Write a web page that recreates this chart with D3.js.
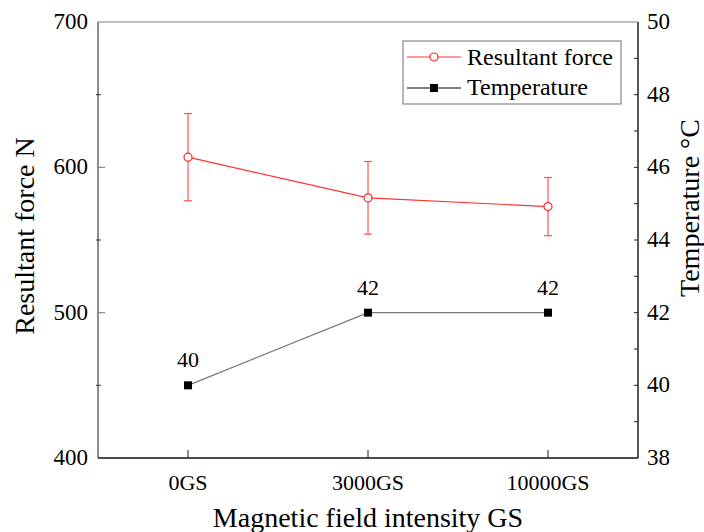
<!DOCTYPE html>
<html><head><meta charset="utf-8"><script src="https://cdn.jsdelivr.net/npm/d3@7"></script></head>
<body><svg id="s" width="704" height="532"></svg>
<script>
const categories = ["0GS", "3000GS", "10000GS"];
const forceValues = [607, 579, 573];
const forceErrors = [30, 25, 20];
const tempValues = [40, 42, 42];
const forceTicks = [400, 500, 600, 700];
const forceMinorTicks = [450, 550, 650];
const tempTicks = [38, 40, 42, 44, 46, 48, 50];
const tempMinorTicks = [39, 41, 43, 45, 47, 49];

d3.select("body").style("margin", "0px").style("background", "#fff");
const svg = d3.select("#s");
const FONT = "'Liberation Serif'";
const plotL = 98, plotR = 638, plotT = 22, plotB = 458;

const x = d3.scalePoint().domain(categories).range([plotL, plotR]).padding(0.5);
const yForce = d3.scaleLinear().domain([400, 700]).range([plotB, plotT]);
const yTemp = d3.scaleLinear().domain([38, 50]).range([plotB, plotT]);

// frame
svg.append("line").attr("x1", plotL).attr("x2", plotR).attr("y1", plotT).attr("y2", plotT)
  .attr("stroke", "#aaa").attr("stroke-width", 1.5);
svg.append("line").attr("x1", plotL).attr("x2", plotL).attr("y1", plotT).attr("y2", plotB)
  .attr("stroke", "#666").attr("stroke-width", 1.5);
svg.append("line").attr("x1", plotR).attr("x2", plotR).attr("y1", plotT).attr("y2", plotB)
  .attr("stroke", "#222").attr("stroke-width", 1.5);
svg.append("line").attr("x1", plotL).attr("x2", plotR).attr("y1", plotB).attr("y2", plotB)
  .attr("stroke", "#111").attr("stroke-width", 1.5);

// left axis ticks + labels
svg.append("g").selectAll("line").data(forceTicks.slice(1, -1)).join("line")
  .attr("x1", plotL).attr("x2", plotL + 7)
  .attr("y1", d => yForce(d)).attr("y2", d => yForce(d))
  .attr("stroke", "#888").attr("stroke-width", 1.2);
svg.append("g").selectAll("line").data(forceMinorTicks).join("line")
  .attr("x1", plotL - 2).attr("x2", plotL + 3)
  .attr("y1", d => yForce(d)).attr("y2", d => yForce(d))
  .attr("stroke", "#333").attr("stroke-width", 1);
svg.append("g").selectAll("text").data(forceTicks).join("text")
  .attr("font-family", FONT).attr("font-size", 23)
  .attr("x", plotL - 10).attr("y", d => yForce(d) + 7)
  .attr("text-anchor", "end")
  .text(d => d);

// right axis ticks + labels
svg.append("g").selectAll("line").data(tempTicks.slice(1, -1).concat(tempMinorTicks)).join("line")
  .attr("x1", plotR - 4).attr("x2", plotR)
  .attr("y1", d => yTemp(d)).attr("y2", d => yTemp(d))
  .attr("stroke", "#222").attr("stroke-width", 1);
svg.append("g").selectAll("text").data(tempTicks).join("text")
  .attr("font-family", FONT).attr("font-size", 23)
  .attr("x", plotR + 9).attr("y", d => yTemp(d) + 7)
  .text(d => d);

// bottom ticks + labels
svg.append("g").selectAll("line").data(categories).join("line")
  .attr("x1", d => x(d)).attr("x2", d => x(d))
  .attr("y1", plotB).attr("y2", plotB - 8)
  .attr("stroke", "#222").attr("stroke-width", 1);
svg.append("g").selectAll("text").data(categories).join("text")
  .attr("font-family", FONT).attr("font-size", 22)
  .attr("x", d => x(d)).attr("y", 490)
  .attr("text-anchor", "middle")
  .text(d => d);

// axis titles
const titles = [
  { t: "Magnetic field intensity GS", tr: "translate(368,527)" },
  { t: "Resultant force N", tr: "translate(34,236) rotate(-90)" },
  { t: "Temperature °C", tr: "translate(699,208) rotate(-90)" }
];
svg.append("g").selectAll("text").data(titles).join("text")
  .attr("font-family", FONT).attr("font-size", 28)
  .attr("transform", d => d.tr)
  .attr("text-anchor", "middle")
  .text(d => d.t);

// temperature series
const tempData = categories.map((c, i) => ({ c, v: tempValues[i] }));
svg.append("path").datum(tempData)
  .attr("d", d3.line().x(d => x(d.c)).y(d => yTemp(d.v)))
  .attr("fill", "none").attr("stroke", "#777").attr("stroke-width", 1.2);
svg.append("g").selectAll("rect").data(tempData).join("rect")
  .attr("x", d => x(d.c) - 4).attr("y", d => yTemp(d.v) - 4)
  .attr("width", 8).attr("height", 8).attr("fill", "#000");
svg.append("g").selectAll("text").data(tempData).join("text")
  .attr("font-family", FONT).attr("font-size", 22)
  .attr("x", d => x(d.c)).attr("y", d => yTemp(d.v) - 18)
  .attr("text-anchor", "middle")
  .text(d => d.v);

// force series with error bars
const forceData = categories.map((c, i) => ({ c, v: forceValues[i], e: forceErrors[i] }));
const eb = svg.append("g").selectAll("g").data(forceData).join("g");
eb.append("line")
  .attr("x1", d => x(d.c)).attr("x2", d => x(d.c))
  .attr("y1", d => yForce(d.v + d.e)).attr("y2", d => yForce(d.v - d.e))
  .attr("stroke", "#ff5555").attr("stroke-width", 1.2);
[1, -1].forEach(s => {
  eb.append("line")
    .attr("x1", d => x(d.c) - 4).attr("x2", d => x(d.c) + 4)
    .attr("y1", d => yForce(d.v + s * d.e)).attr("y2", d => yForce(d.v + s * d.e))
    .attr("stroke", "#ff5555").attr("stroke-width", 1.2);
});
svg.append("path").datum(forceData)
  .attr("d", d3.line().x(d => x(d.c)).y(d => yForce(d.v)))
  .attr("fill", "none").attr("stroke", "#ff3333").attr("stroke-width", 1.2);
svg.append("g").selectAll("circle").data(forceData).join("circle")
  .attr("cx", d => x(d.c)).attr("cy", d => yForce(d.v)).attr("r", 4)
  .attr("fill", "#fff").attr("stroke", "#ff2222").attr("stroke-width", 1.2);

// legend
const legendItems = ["Resultant force", "Temperature"];
const lg = svg.append("g");
lg.append("rect").attr("x", 403).attr("y", 41).attr("width", 218).attr("height", 63)
  .attr("fill", "#fff").attr("stroke", "#888").attr("stroke-width", 1.2);
lg.append("line").attr("x1", 407).attr("x2", 461).attr("y1", 57).attr("y2", 57)
  .attr("stroke", "#ff3333").attr("stroke-width", 1.2);
lg.append("circle").attr("cx", 434).attr("cy", 57).attr("r", 4)
  .attr("fill", "#fff").attr("stroke", "#ff2222").attr("stroke-width", 1.2);
lg.append("line").attr("x1", 407).attr("x2", 461).attr("y1", 88).attr("y2", 88)
  .attr("stroke", "#000").attr("stroke-width", 1.2);
lg.append("rect").attr("x", 430).attr("y", 84).attr("width", 8).attr("height", 8).attr("fill", "#000");
lg.selectAll("text").data(legendItems).join("text")
  .attr("font-family", FONT).attr("font-size", 24)
  .attr("x", 467).attr("y", (d, i) => 65 + i * 30)
  .text(d => d);
</script></body></html>
